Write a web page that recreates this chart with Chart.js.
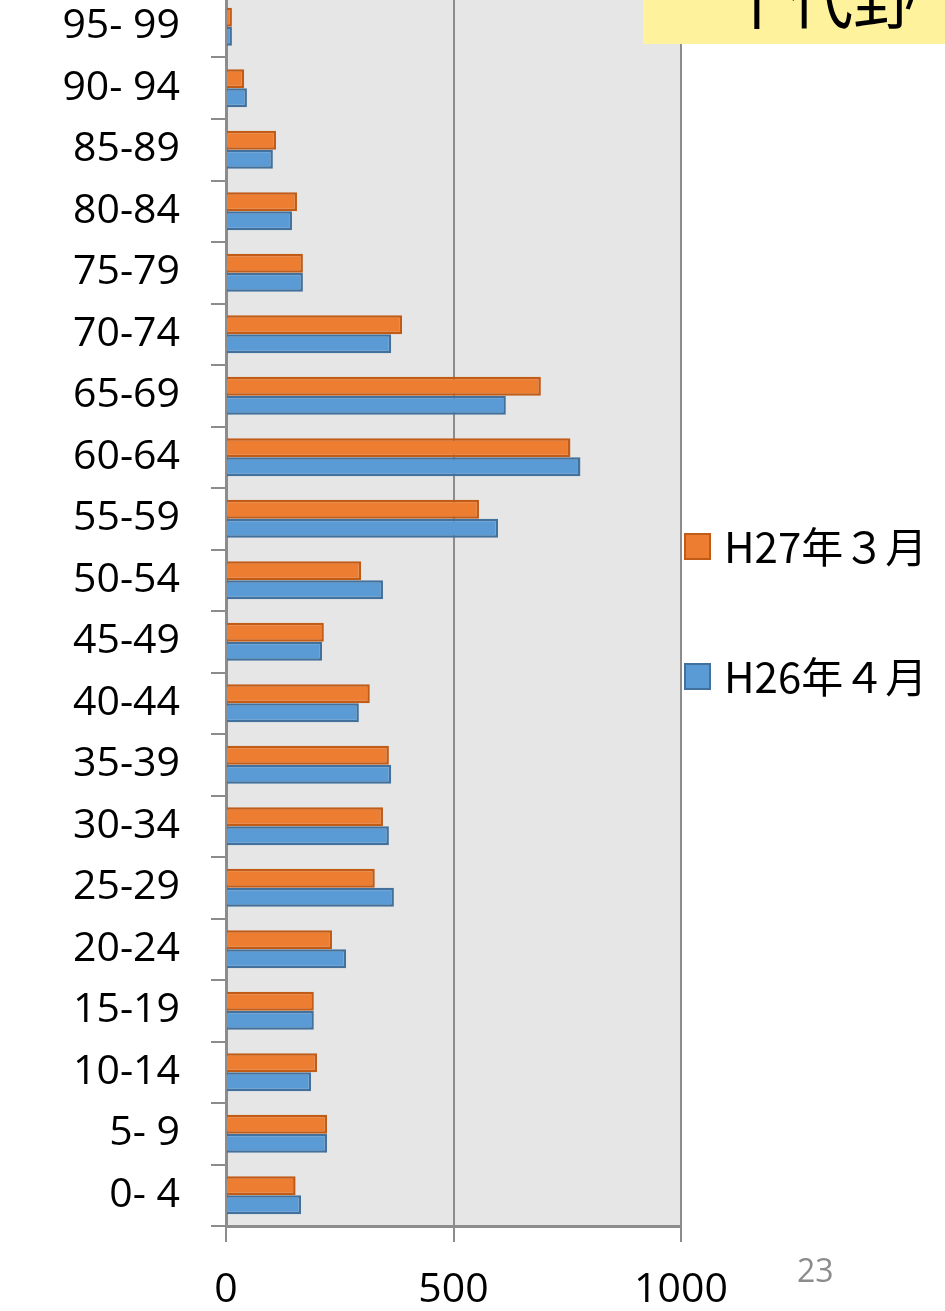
<!DOCTYPE html>
<html>
<head>
<meta charset="utf-8">
<script src="https://cdn.jsdelivr.net/npm/chart.js@4/dist/chart.umd.min.js"></script>
<style>
  body { margin: 0; width: 945px; height: 1311px; overflow: hidden; position: relative; background: #fff; }
  #wrap { position: absolute; left: 0; top: -4px; width: 945px; height: 1315px; }
  #titleBox { position: absolute; left: 643px; top: 0; width: 302px; height: 44px; background: #fff29d; overflow: hidden; }
  #titleText { position: absolute; left: 82px; top: -37px; width: 190px; height: 80px; overflow: hidden;
    font: 64px/64px "Noto Sans CJK JP", sans-serif; color: #000; white-space: nowrap; }
  #pageNo { position: absolute; left: 797px; top: 1248px; font: 32px "Open Sans", sans-serif; color: #8c8c8c; }
</style>
</head>
<body>
<div id="wrap"><canvas id="chart" width="945" height="1315"></canvas></div>
<div id="titleBox"><div id="titleText">千代野</div></div>
<div id="pageNo">23</div>
<script>
// 年齢区分 (下から上へ)
const ageGroups = ['0- 4', '5- 9', '10-14', '15-19', '20-24', '25-29', '30-34', '35-39', '40-44', '45-49',
    '50-54', '55-59', '60-64', '65-69', '70-74', '75-79', '80-84', '85-89', '90- 94', '95- 99'];

// 人口
const h27Values = [153, 222, 200, 193, 233, 327, 345, 358, 316, 215,
    297, 556, 757, 692, 387, 169, 156, 110, 40, 13];
const h26Values = [165, 222, 187, 193, 264, 369, 358, 363, 292, 211,
    345, 598, 779, 615, 363, 169, 145, 103, 46, 13];

const seriesLabels = ['H27年３月', 'H26年４月'];
const xTicks = [0, 500, 1000];

const axisGray = '#8c8c8c';

// プロット背景
const plotBackground = {
    id: 'plotBackground',
    beforeDraw(chart) {
        const { ctx, chartArea: a } = chart;
        ctx.save();
        ctx.fillStyle = '#e6e6e6';
        ctx.fillRect(a.left, a.top, a.right - a.left, a.bottom - a.top);
        ctx.restore();
    }
};

// 右側の凡例
const sideLegend = {
    id: 'sideLegend',
    afterDraw(chart) {
        const { ctx, chartArea: a } = chart;
        const mid = (a.top + a.bottom) / 2;
        const gap = 130;
        ctx.save();
        chart.data.datasets.forEach((ds, i) => {
            const cy = mid + (i - 0.5) * gap;
            ctx.fillStyle = ds.backgroundColor;
            ctx.fillRect(684, cy - 13, 27, 27);
            ctx.strokeStyle = ds.borderColor;
            ctx.lineWidth = 2;
            ctx.strokeRect(685, cy - 12, 25, 25);
            ctx.fillStyle = '#000';
            ctx.font = '42px "Noto Sans CJK JP", sans-serif';
            ctx.textBaseline = 'middle';
            ctx.textAlign = 'left';
            ctx.fillText(ds.label, 724, cy + 1);
        });
        ctx.restore();
    }
};

new Chart(document.getElementById('chart'), {
    type: 'bar',
    data: {
        labels: ageGroups,
        datasets: [
            {
                label: seriesLabels[0],
                data: h27Values,
                backgroundColor: '#ed7d31',
                borderColor: '#c25b16',
                borderWidth: 2.5
            },
            {
                label: seriesLabels[1],
                data: h26Values,
                backgroundColor: '#5b9bd5',
                borderColor: '#41719c',
                borderWidth: 2.5
            }
        ]
    },
    options: {
        indexAxis: 'y',
        responsive: false,
        animation: false,
        devicePixelRatio: 1,
        layout: { padding: { left: 0, right: 264, top: 0, bottom: 0 } },
        datasets: {
            bar: { barPercentage: 1, categoryPercentage: 0.62 }
        },
        plugins: {
            legend: { display: false },
            tooltip: { enabled: false }
        },
        scales: {
            y: {
                type: 'category',
                reverse: true,
                afterFit(scale) {
                    scale.width = 226;
                    scale.paddingTop = 0;
                    scale.paddingBottom = 0;
                },
                border: { display: true, color: axisGray, width: 3 },
                grid: { drawOnChartArea: false, drawTicks: true, tickLength: 15, color: axisGray, lineWidth: 2, offset: true },
                ticks: {
                    color: '#000',
                    padding: 31,
                    font: { family: '"Open Sans", sans-serif', size: 41 },
                    autoSkip: false
                }
            },
            x: {
                min: 0,
                max: 1000,
                afterFit(scale) {
                    scale.height = 85;
                    scale.paddingLeft = 0;
                    scale.paddingRight = 0;
                },
                afterBuildTicks(scale) { scale.ticks = xTicks.map(v => ({ value: v })); },
                border: { display: true, color: axisGray, width: 3 },
                grid: { drawOnChartArea: true, drawTicks: true, tickLength: 16, color: axisGray, lineWidth: 2 },
                ticks: {
                    color: '#000',
                    padding: 24,
                    font: { family: '"Open Sans", sans-serif', size: 41 },
                    callback: (v) => String(v)
                }
            }
        }
    },
    plugins: [plotBackground, sideLegend]
});
</script>
</body>
</html>
